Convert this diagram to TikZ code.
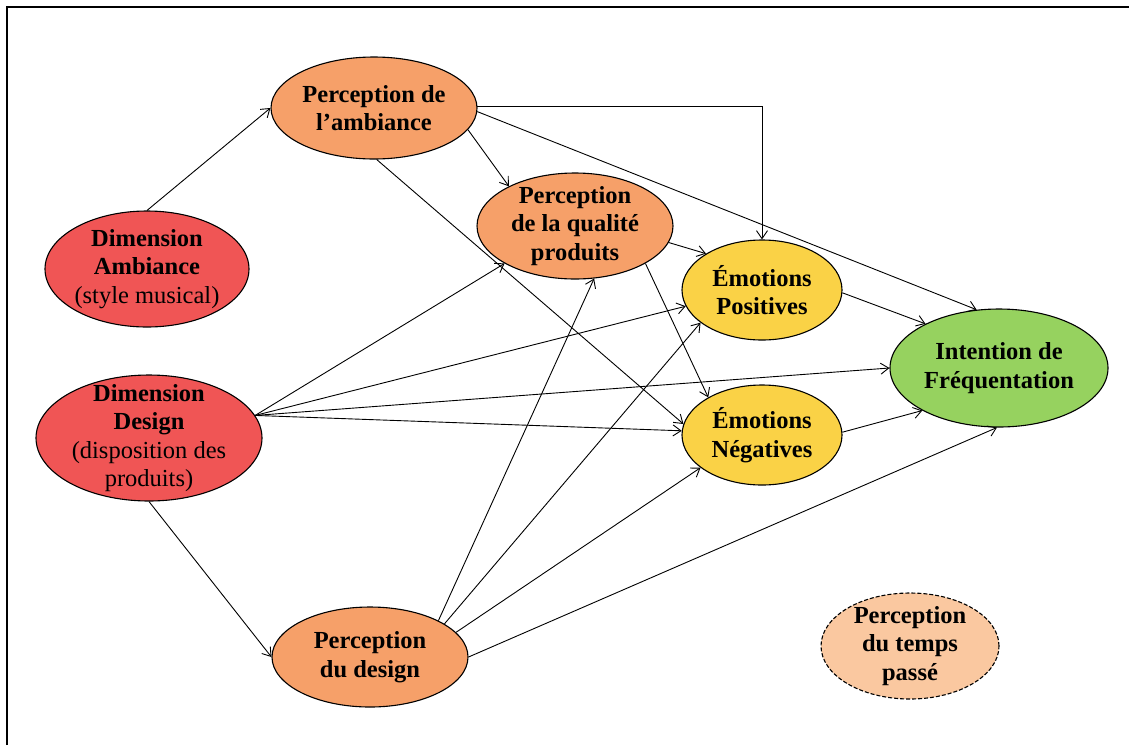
\documentclass[tikz,border=0pt]{standalone}
\usepackage{fontspec}
\setmainfont{Liberation Serif}
\usetikzlibrary{shapes.geometric,arrows.meta}
\definecolor{cred}{RGB}{240,85,85}
\definecolor{corange}{RGB}{246,160,105}
\definecolor{cpeach}{RGB}{250,200,160}
\definecolor{cyellow}{RGB}{250,210,70}
\definecolor{cgreen}{RGB}{150,210,95}
\begin{document}
\begin{tikzpicture}[x=1pt,y=-1pt,
  ell/.style={ellipse, draw, line width=1.1pt, inner sep=0pt},
  lab/.style={align=center, font=\fontsize{24.5}{28.5}\selectfont\bfseries},
  conn/.style={line width=0.9pt, -{Straight Barb[length=8pt,width=11pt]}}]
\useasboundingbox (0,0) rectangle (1129,745);
\draw[line width=1.5pt] (7,745) -- (7,7) -- (1129,7);

\node[ell, fill=corange, minimum width=206pt, minimum height=102pt,
  label={[lab]center:{Perception de\\l’ambiance}}] (pa) at (374,108) {};
\node[ell, fill=cred, minimum width=204pt, minimum height=116pt,
  label={[lab]center:{Dimension\\Ambiance\\{\mdseries(style musical)}}}] (da) at (147,269) {};
\node[ell, fill=cred, minimum width=226pt, minimum height=126pt,
  label={[lab]center:{Dimension\\Design\\{\mdseries(disposition des}\\{\mdseries produits)}}}] (dd) at (149,438) {};
\node[ell, fill=corange, minimum width=196pt, minimum height=100pt,
  label={[lab]center:{Perception\\du design}}] (pd) at (370,657) {};
\node[ell, fill=corange, minimum width=196pt, minimum height=106pt,
  label={[lab]center:{Perception\\de la qualité\\produits}}] (pq) at (575,226) {};
\node[ell, fill=cyellow, minimum width=160pt, minimum height=100pt,
  label={[lab]center:{Émotions\\Positives}}] (ep) at (762,290) {};
\node[ell, fill=cyellow, minimum width=160pt, minimum height=100pt,
  label={[lab]center:{Émotions\\Négatives}}] (en) at (762,435) {};
\node[ell, fill=cgreen, minimum width=218pt, minimum height=118pt,
  label={[lab]center:{Intention de\\Fréquentation}}] (if) at (999,368) {};
\node[ell, fill=cpeach, dash pattern=on 4pt off 2pt, minimum width=178pt, minimum height=106pt,
  label={[lab]center:{Perception\\du temps\\passé}}] (pt) at (910,646) {};

% connectors
\draw[conn] (da.90) -- (pa.180);
\draw[conn] (dd.-90) -- (pd.180);
\draw[conn] (pa.-13.4) -- (pq.149.6);
\draw[conn] (pa.1.5) -| (ep.north);
\draw[conn] (pa.-2) -- (if.111.5);
\draw[conn] (pa.-87) -- (en.172);
\draw[conn] (pq.-10) -- (ep.147);
\draw[conn] (pq.-28) -- (en.145);
\draw[conn] (ep.-2) -- (if.149);
\draw[conn] (en.2) -- (if.209.4);
\draw[conn] (dd.12.5) -- (pq.208);
\draw[conn] (dd.12.5) -- (ep.192);
\draw[conn] (dd.12.5) -- (if.180);
\draw[conn] (dd.12.5) -- (en.177);
\draw[conn] (pd.28) -- (pq.-70);
\draw[conn] (pd.24.8) -- (ep.208);
\draw[conn] (pd.16.5) -- (en.208.7);
\draw[conn] (pd.0) -- (if.268);
\end{tikzpicture}
\end{document}
